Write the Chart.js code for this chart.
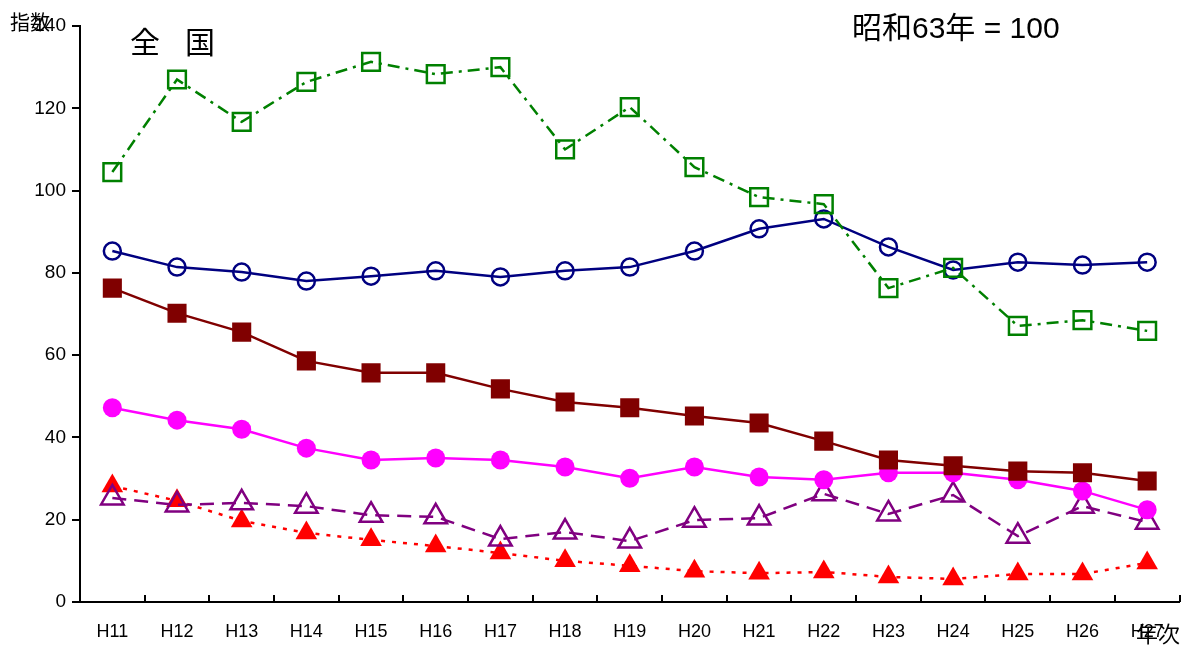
<!DOCTYPE html>
<html>
<head>
<meta charset="utf-8">
<script src="https://cdn.jsdelivr.net/npm/chart.js@4"></script>
<style>
  body { margin: 0; background: #fff; }
  #wrap { width: 1195px; height: 648px; }
</style>
</head>
<body>
<div id="wrap"><canvas id="chart" width="1195" height="648"></canvas></div>
<script>
// categories and series (index, 昭和63年 = 100)
const years = ["H11","H12","H13","H14","H15","H16","H17","H18","H19","H20","H21","H22","H23","H24","H25","H26","H27"];
const greenSq   = [104.5,127,116.7,126.4,131.3,128.3,130,110,120.3,105.7,98.4,96.7,76.3,81.2,67.1,68.5,65.9];
const navyCirc  = [85.3,81.4,80.2,78,79.2,80.5,79,80.5,81.4,85.3,90.7,93.1,86.3,80.7,82.6,81.9,82.6];
const maroonSq  = [76.3,70.2,65.6,58.6,55.7,55.7,51.8,48.6,47.2,45.2,43.5,39.1,34.5,33.1,31.8,31.4,29.4];
const pinkCirc  = [47.2,44.2,42,37.4,34.5,35,34.5,32.8,30.1,32.8,30.4,29.7,31.4,31.4,29.7,27,22.4];
const purpleTri = [25.3,23.6,24.1,23.3,21.1,20.7,15.3,17,14.8,19.9,20.4,26.3,21.4,26,16,23.3,19.4];
const redTri    = [28.2,24.6,19.7,16.8,15.1,13.6,11.9,10,8.8,7.5,7,7.3,6.1,5.6,6.8,6.8,9.5];
const yTicks = [0,20,40,60,80,100,120,140];

const FONT = "'Liberation Sans', Arial, sans-serif";
const JP = "'Liberation Sans', 'Noto Sans CJK JP', sans-serif";

// inward tick marks on the x axis + text labels
const extras = {
  id: "extras",
  afterDraw(chart) {
    const ctx = chart.ctx;
    const a = chart.chartArea;
    const n = years.length;
    const step = (a.right - a.left) / n;
    ctx.save();
    ctx.strokeStyle = "#000";
    ctx.lineWidth = 2;
    for (let i = 1; i <= n; i++) {
      const x = Math.round(a.left + i * step);
      ctx.beginPath();
      ctx.moveTo(x, a.bottom);
      ctx.lineTo(x, a.bottom - 7);
      ctx.stroke();
    }
    ctx.fillStyle = "#000";
    ctx.textBaseline = "middle";
    ctx.textAlign = "left";
    ctx.font = "20px " + JP;
    ctx.fillText("指数", 10, 24);
    ctx.font = "30px " + JP;
    ctx.fillText("全", 130, 45);
    ctx.fillText("国", 185, 45);
    ctx.font = "30px " + JP;
    ctx.fillText("昭和63年 = 100", 852, 30);
    ctx.font = "22px " + JP;
    ctx.fillText("年次", 1136, 636);
    ctx.restore();
  }
};

new Chart(document.getElementById("chart"), {
  type: "line",
  data: {
    labels: years,
    datasets: [
      { data: greenSq, borderColor: "#008000", borderWidth: 2.5, borderDash: [12, 6, 3, 6],
        pointStyle: "rect", pointRadius: 12.5, pointBorderWidth: 2.5,
        pointBorderColor: "#008000", pointBackgroundColor: "rgba(0,0,0,0)" },
      { data: maroonSq, borderColor: "#800000", borderWidth: 2.5,
        pointStyle: "rect", pointRadius: 13.5, pointBorderWidth: 0,
        pointBackgroundColor: "#800000", pointBorderColor: "#800000" },
      { data: navyCirc, borderColor: "#000080", borderWidth: 2.5,
        pointStyle: "circle", pointRadius: 8.5, pointBorderWidth: 2.5,
        pointBorderColor: "#000080", pointBackgroundColor: "rgba(0,0,0,0)" },
      { data: pinkCirc, borderColor: "#ff00ff", borderWidth: 2.5,
        pointStyle: "circle", pointRadius: 9.5, pointBorderWidth: 0,
        pointBackgroundColor: "#ff00ff", pointBorderColor: "#ff00ff" },
      { data: purpleTri, borderColor: "#800080", borderWidth: 2.5, borderDash: [14, 8],
        pointStyle: "triangle", pointRadius: 13, pointBorderWidth: 2.5,
        pointBorderColor: "#800080", pointBackgroundColor: "rgba(0,0,0,0)" },
      { data: redTri, borderColor: "#ff0000", borderWidth: 2.5, borderDash: [4, 7],
        pointStyle: "triangle", pointRadius: 12.5, pointBorderWidth: 0,
        pointBackgroundColor: "#ff0000", pointBorderColor: "#ff0000" }
    ]
  },
  options: {
    responsive: false,
    animation: false,
    layout: { padding: { top: 26, right: 15, left: 0, bottom: 0 } },
    plugins: { legend: { display: false }, tooltip: { enabled: false } },
    elements: { line: { tension: 0 } },
    scales: {
      x: {
        offset: true,
        grid: { display: false },
        border: { color: "#000", width: 2 },
        ticks: { color: "#000", font: { family: FONT, size: 18 }, padding: 11, maxRotation: 0 },
        afterFit(s) { s.height = 46; }
      },
      y: {
        min: 0, max: 140,
        afterBuildTicks(s) { s.ticks = yTicks.map(v => ({ value: v })); },
        grid: { drawOnChartArea: false, color: "#000", lineWidth: 2, tickLength: 8 },
        border: { color: "#000", width: 2 },
        ticks: { color: "#000", font: { family: FONT, size: 19 }, padding: 6 },
        afterFit(s) { s.width = 80; }
      }
    }
  },
  plugins: [extras]
});
</script>
</body>
</html>
